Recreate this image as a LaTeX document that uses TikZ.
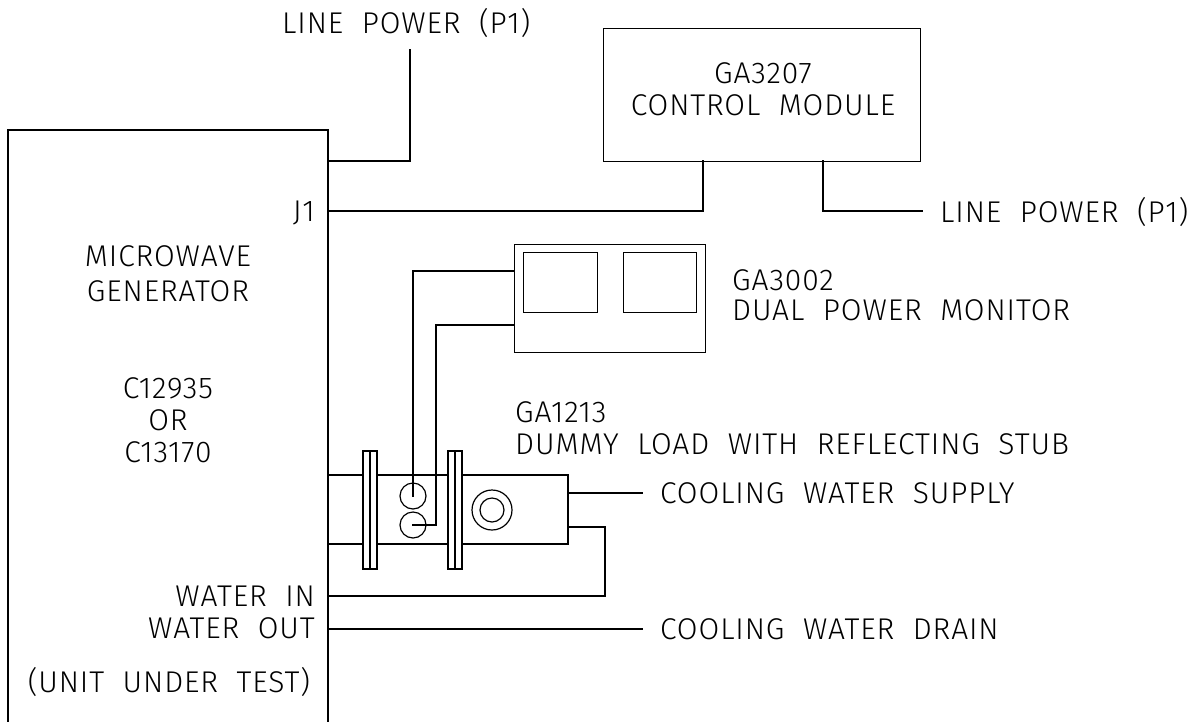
\documentclass[tikz,border=0pt]{standalone}
\usepackage{fontspec}
\setmainfont{Fira Sans Light}[LetterSpace=3]
\begin{document}
\begin{tikzpicture}[x=1pt,y=-1pt,
  wire/.style={line width=1.2pt, line cap=rect},
  box/.style={draw, line width=1.2pt},
  lbl/.style={inner sep=0pt, font=\fontsize{30}{34}\selectfont}]
\useasboundingbox (0,0) rectangle (1201,721);
% generator
\draw[wire] (8,725) -- (8,130) -- (328,130) -- (328,725);
% control module
\node[box, minimum width=317pt, minimum height=133pt, anchor=north west, inner sep=0] (ctrl) at (603,28) {};
\node[lbl, anchor=base] (ctrlA) at (763,83) {GA3207};
\node[lbl, anchor=base] (ctrlB) at (763,115) {CONTROL\ \ MODULE};
% power monitor
\node[box, minimum width=191pt, minimum height=108pt, anchor=north west, inner sep=0] (mon) at (514,244) {};
\node[box, minimum width=74pt, minimum height=60pt, anchor=north west, inner sep=0] (scr1) at (523,252) {};
\node[box, minimum width=73pt, minimum height=60pt, anchor=north west, inner sep=0] (scr2) at (623,252) {};
\node[lbl, anchor=base west] (monA) at (732,290) {GA3002};
\node[lbl, anchor=base west] (monB) at (732,320) {DUAL\ \ POWER\ \ MONITOR};
% line power top
\node[lbl, anchor=base west] (lp1) at (282,33) {LINE\ \ POWER\ \ (P1)};
\coordinate (lp1w) at (410,50);
\draw[wire] (328,161) -- (410,161) -- (lp1w);
% J1
\node[lbl, anchor=base east] (j1) at (315,221) {J1};
\draw[wire] (328,211) -- (703,211) -- (703,161);
% line power right
\node[lbl, anchor=base west] (lp2) at (940,222) {LINE\ \ POWER\ \ (P1)};
\draw[wire] (823,161) -- (823,211) -- (922,211);
% generator texts
\node[lbl, anchor=base] (g1) at (168,266) {MICROWAVE};
\node[lbl, anchor=base] (g2) at (168,301) {GENERATOR};
\node[lbl, anchor=base] (g3) at (168,398) {C12935};
\node[lbl, anchor=base] (g4) at (168,430) {OR};
\node[lbl, anchor=base] (g5) at (168,462) {C13170};
\node[lbl, anchor=base] (g6) at (169,692) {(UNIT\ \ UNDER\ \ TEST)};
\node[lbl, anchor=base east] (win) at (315,606) {WATER\ \ IN};
\node[lbl, anchor=base east] (wout) at (315,638) {WATER\ \ OUT};
% dummy load labels
\node[lbl, anchor=base west] (dl1) at (515,422) {GA1213};
\node[lbl, anchor=base west] (dl2) at (515,454) {DUMMY\ \ LOAD\ \ WITH\ \ REFLECTING\ \ STUB};
% waveguide
\draw[wire] (328,475) -- (568,475) -- (568,544) -- (328,544);
\foreach \xa in {363,448} {
  \draw[box, fill=white] (\xa,451) rectangle ++(14,118);
  \draw[wire] (\xa+7,451) -- (\xa+7,569);
}
\draw[wire] (413,496) circle (13);
\draw[wire] (413,525) circle (13);
\draw[wire] (492,510) circle (20);
\draw[wire] (492,510) circle (12);
% monitor wires
\draw[wire] (mon.west |- 0,271) -- (413,271) -- (413,496);
\draw[wire] (mon.west |- 0,325) -- (436,325) -- (436,525) -- (413,525);
% cooling water
\node[lbl, anchor=base west] (cws) at (660,503) {COOLING\ \ WATER\ \ SUPPLY};
\node[lbl, anchor=base west] (cwd) at (660,639) {COOLING\ \ WATER\ \ DRAIN};
\draw[wire] (568,493) -- (642,493);
\draw[wire] (568,527) -- (605,527) -- (605,596) -- (328,596);
\draw[wire] (328,629) -- (642,629);
\end{tikzpicture}
\end{document}
